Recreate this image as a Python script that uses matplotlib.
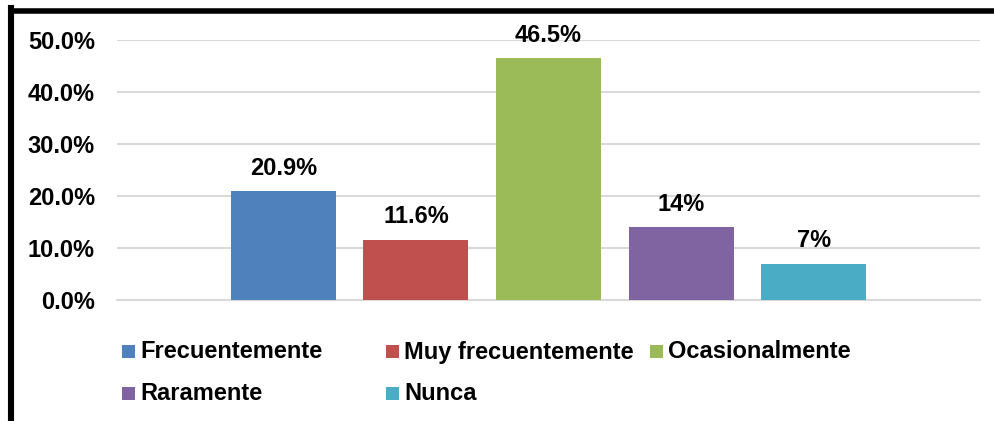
import matplotlib.pyplot as plt
from matplotlib.patches import Rectangle
from matplotlib.lines import Line2D

plt.rcParams["font.family"] = ["Liberation Sans", "DejaVu Sans"]
plt.rcParams["font.weight"] = "bold"

# datos
categorias = ["Frecuentemente", "Muy frecuentemente", "Ocasionalmente", "Raramente", "Nunca"]
valores = [20.9, 11.6, 46.5, 14.0, 7.0]
etiquetas = ["20.9%", "11.6%", "46.5%", "14%", "7%"]
colores = ["#4F81BD", "#C0504D", "#9BBB59", "#8064A2", "#4BACC6"]
yticks = [0, 10, 20, 30, 40, 50]
ytick_labels = ["0.0%", "10.0%", "20.0%", "30.0%", "40.0%", "50.0%"]

W, H = 995, 421
fig = plt.figure(figsize=(W / 100, H / 100), dpi=100)
ax = fig.add_axes([117 / W, 1 - 300 / H, (980 - 117) / W, 260 / H])

x = list(range(len(valores)))
bars = ax.bar(x, valores, width=0.792, color=colores, zorder=3)
for b, lab in zip(bars, etiquetas):
    ax.annotate(lab, (b.get_x() + b.get_width() / 2, b.get_height()),
                xytext=(0, 12), textcoords="offset points",
                ha="center", va="baseline", fontsize=17, fontweight="bold",
                annotation_clip=False)

ax.set_xlim(-1.254, 5.254)
ax.set_ylim(0, 50)
ax.set_yticks(yticks)
ax.set_yticklabels(ytick_labels, fontsize=17, fontweight="bold")
ax.set_xticks([])
ax.tick_params(axis="y", length=0, pad=16)
ax.grid(axis="y", color="#d9d9d9", linewidth=1.5, zorder=0)
for s in ["top", "right", "left"]:
    ax.spines[s].set_visible(False)
ax.spines["bottom"].set_color("#d9d9d9")
ax.spines["bottom"].set_linewidth(1.5)
ax.spines["bottom"].set_zorder(1)

# leyenda manual (x, centro del cuadro, linea base del texto)
pos = [(122, 351, 358.5), (386, 351, 358.5), (650, 351, 358.5),
       (122, 393.5, 400.5), (386, 393.5, 400.5)]
for (px, py, pb), c, nom in zip(pos, colores, categorias):
    fig.patches.append(Rectangle((px / W, 1 - (py + 6.5) / H), 13 / W, 13 / H,
                                 transform=fig.transFigure, facecolor=c, edgecolor="none"))
    fig.text((px + 18) / W, 1 - pb / H, nom, fontsize=17, fontweight="bold",
             ha="left", va="baseline")

# marco
fig.add_artist(Line2D([11 / W, 11 / W], [0, 1 - 8 / H], color="black", lw=4.4,
                      transform=fig.transFigure, solid_capstyle="projecting"))
fig.add_artist(Line2D([11 / W, 1.01], [1 - 10.7 / H, 1 - 10.7 / H], color="black", lw=4,
                      transform=fig.transFigure))

fig.savefig("out.png", dpi=100)
